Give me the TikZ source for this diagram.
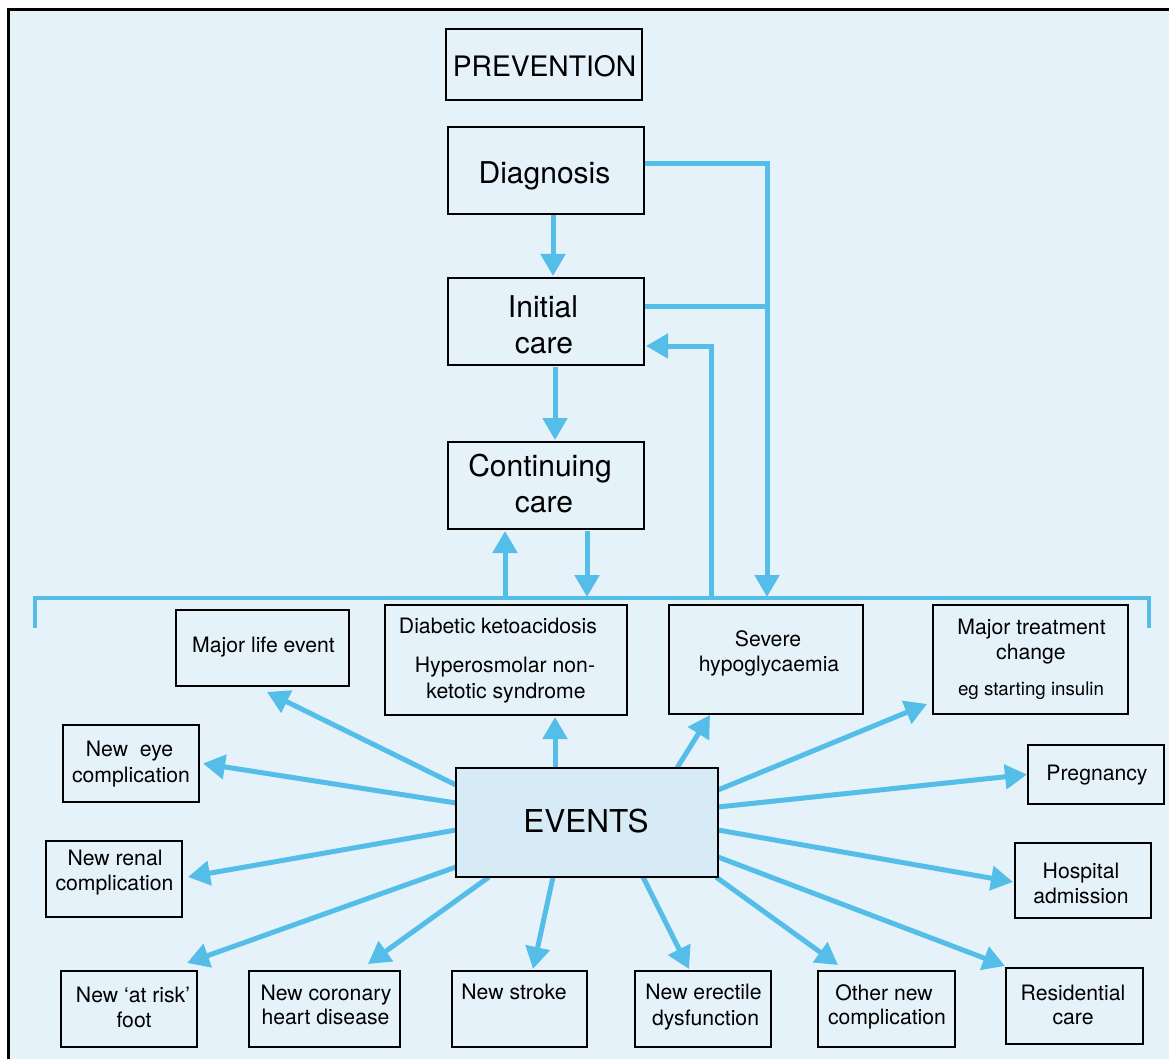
\documentclass[tikz,border=0pt]{standalone}
\usepackage{fontspec}
\setmainfont{TeX Gyre Heros}
\usetikzlibrary{arrows.meta,calc}
\definecolor{bgblue}{RGB}{229,242,250}
\definecolor{evblue}{RGB}{214,235,246}
\definecolor{arrblue}{RGB}{84,190,232}
\pgfdeclarelayer{bglayer}
\pgfdeclarelayer{arrlayer}
\pgfsetlayers{bglayer,arrlayer,main}
\newcommand\bx[6][]{\node[box,#1,minimum width={(#4)-(#2)},minimum height={(#6)-(#3)}] (#5) at ({((#2)+(#4))/2},{((#3)+(#6))/2}) {};}
\newcommand\tl[5][txt]{\node[#1,anchor=base] (#2) at (#3,#4) {#5};}
\begin{document}
\begin{tikzpicture}[x=1pt,y=-1pt,
  box/.style={draw=black,line width=2pt,rectangle,inner sep=0pt,outer sep=0pt},
  txt/.style={inner sep=0pt,font=\fontsize{21.2}{26}\selectfont},
  stxt/.style={inner sep=0pt,font=\fontsize{18.7}{22}\selectfont},
  big/.style={inner sep=0pt,font=\fontsize{30}{36}\selectfont},
  prevt/.style={inner sep=0pt,font=\fontsize{28.2}{34}\selectfont},
  evt/.style={inner sep=0pt,font=\fontsize{31.5}{38}\selectfont},
  arr/.style={line width=5pt,draw=arrblue,-{Triangle[length=22pt,width=24pt]}},
  ln/.style={line width=5pt,draw=arrblue},
  brk/.style={line width=4pt,draw=arrblue,line join=miter},
  ]
\useasboundingbox (0,0) rectangle (1169,1059);
\begin{pgfonlayer}{bglayer}
\fill[white] (0,0) rectangle (1169,1059);
\fill[bgblue] (8.5,9.5) rectangle (1169,1059);
\draw[line width=3pt,line join=miter] (8.5,1070) -- (8.5,9.5) -- (1180,9.5);
\end{pgfonlayer}

% upper boxes
\bx{446}{29}{642}{prev}{100}
\bx{448}{127}{644}{diag}{214}
\bx{448}{278}{644}{init}{365}
\bx{448}{442}{644}{cont}{529}
\tl[prevt]{prevt}{544.5}{77}{PREVENTION}
\tl[big]{diagt}{544.5}{183.3}{Diagnosis}
\tl[big]{initt1}{543}{317.7}{Initial}
\tl[big]{initt2}{544}{353.3}{care}
\tl[big]{contt1}{540}{476.7}{Continuing}
\tl[big]{contt2}{544}{512.7}{care}

% event boxes
\bx{176}{610}{349}{ml}{686}
\bx{385}{605}{627}{dka}{715}
\bx{669}{605}{863}{sh}{714}
\bx{933}{605}{1128}{mt}{714}
\bx{63}{725}{199}{eye}{802}
\bx{1028}{745}{1164}{preg}{804}
\bx{46}{841}{182}{renal}{917}
\bx{1015}{843}{1151}{hosp}{918}
\bx{61}{971}{197}{foot}{1047}
\bx{249}{971}{400}{cor}{1047}
\bx{452}{971}{587}{stroke}{1047}
\bx{635}{971}{771}{erect}{1047}
\bx{818}{971}{955}{other}{1047}
\bx{1006}{968}{1143}{resid}{1044}
\bx[fill=evblue]{456}{768}{718}{ev}{877}

\tl{mlt}{263.5}{652.7}{Major life event}
\tl{dkat1}{498}{633.3}{Diabetic ketoacidosis}
\tl{dkat2}{505}{672.3}{Hyperosmolar non-}
\tl{dkat3}{506}{698.3}{ketotic syndrome}
\tl{sht1}{768}{646.7}{Severe}
\tl{sht2}{769}{671.7}{hypoglycaemia}
\tl{mtt1}{1031.5}{634}{Major treatment}
\tl{mtt2}{1031}{659.3}{change}
\tl[stxt]{mtt3}{1031}{695}{eg starting insulin}
\tl{eyet1}{129.5}{756.7}{New\ \ eye}
\tl{eyet2}{131}{782.3}{complication}
\tl{pregt}{1097}{780.7}{Pregnancy}
\tl{renalt1}{115}{865.7}{New renal}
\tl{renalt2}{114.5}{890.7}{complication}
\tl{hospt1}{1081}{878.3}{Hospital}
\tl{hospt2}{1081}{903.3}{admission}
\tl{foott1}{133}{1002.7}{New ‘at risk’}
\tl{foott2}{134}{1027.3}{foot}
\tl{cort1}{326}{1000}{New coronary}
\tl{cort2}{325.5}{1024}{heart disease}
\tl{strokt}{514}{999.3}{New stroke}
\tl{erectt1}{703.5}{999.3}{New erectile}
\tl{erectt2}{705.5}{1025}{dysfunction}
\tl{othert1}{884}{1000}{Other new}
\tl{othert2}{887}{1024}{complication}
\tl{residt1}{1073}{1000}{Residential}
\tl{residt2}{1073}{1024}{care}
\tl[evt]{evtt}{586}{832}{EVENTS}

% bracket coordinates
\coordinate (brL) at (35,598);
\coordinate (brR) at (1149,598);
\coordinate (brLe) at (35,628);
\coordinate (brRe) at (1149,628);
\coordinate (bD) at (767,597);
\coordinate (jn) at (767,306);
\coordinate (bU) at (711,598);
\coordinate (bC1) at (505,598);
\coordinate (bC2) at (587,597);

\begin{pgfonlayer}{arrlayer}
\draw[brk] (brLe) -- (brL) -- (brR) -- (brRe);
\draw[arr] ($(diag.south)+(7,0)$) -- ($(init.north)+(7,-2)$);
\draw[arr] ($(init.south)+(9,2)$) -- ($(cont.north)+(9,-2)$);
\draw[arr] ($(diag.east)+(0,-6.5)$) -| (bD);
\draw[ln] ($(init.east)+(1,-15.5)$) -- (jn);
\draw[arr] (bU) |- ($(init.east)+(2,24.5)$);
\draw[arr] (bC1) -- ($(cont.south)+(-41,2)$);
\draw[arr] ($(cont.south)+(41,2)$) -- (bC2);

\draw[arr] ($(ev.north west)+(0,17)$) -- ($(ml.south)+(4.5,6)$);
\draw[arr] ($(ev.north west)+(99,0)$) -- ($(dka.south)+(49,2)$);
\draw[arr] ($(ev.north west)+(221,0)$) -- ($(sh.south west)+(41,1)$);
\draw[arr] ($(ev.north east)+(0,22)$) -- ($(mt.south west)+(-6,-10)$);
\draw[arr] ($(ev.north west)+(0,35)$) -- ($(eye.east)+(4,0)$);
\draw[arr] ($(ev.north east)+(0,39)$) -- ($(preg.west)+(-1,0)$);
\draw[arr] ($(ev.north west)+(0,62)$) -- ($(renal.east)+(6,-2)$);
\draw[arr] ($(ev.north east)+(0,62)$) -- ($(hosp.west)+(-2,1.5)$);
\draw[arr] ($(ev.south west)+(0,-10)$) -- ($(foot.north east)+(-10,-8)$);
\draw[arr] ($(ev.south west)+(33,0)$) -- ($(cor.north)+(43.5,-7)$);
\draw[arr] ($(ev.south west)+(97,0)$) -- ($(stroke.north)+(13.5,-2)$);
\draw[arr] ($(ev.south west)+(187,0)$) -- ($(erect.north)+(-14,-2)$);
\draw[arr] ($(ev.south east)+(-2,0)$) -- ($(other.north west)+(20,-6)$);
\draw[arr] ($(ev.south east)+(0,-20)$) -- ($(resid.north west)+(-1,-2)$);
\end{pgfonlayer}
\end{tikzpicture}
\end{document}
